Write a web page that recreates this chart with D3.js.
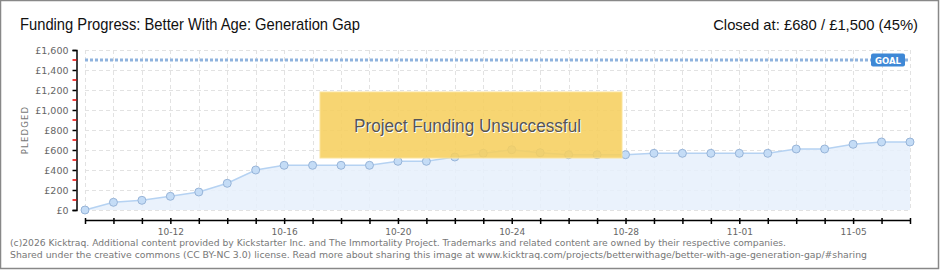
<!DOCTYPE html>
<html>
<head>
<meta charset="utf-8">
<script src="https://cdn.jsdelivr.net/npm/d3@7"></script>
<style>
  body { margin: 0; background: #fff; }
  svg { display: block; }
  .ttl { font-family: "Liberation Sans Narrow", "Liberation Sans", sans-serif; font-stretch: condensed; }
  .sm { font-family: "DejaVu Sans", sans-serif; }
</style>
</head>
<body>
<div id="chart"></div>
<script>
// daily pledge totals (GBP)
var days = ["2015-10-09","2015-10-10","2015-10-11","2015-10-12","2015-10-13","2015-10-14","2015-10-15",
  "2015-10-16","2015-10-17","2015-10-18","2015-10-19","2015-10-20","2015-10-21","2015-10-22","2015-10-23",
  "2015-10-24","2015-10-25","2015-10-26","2015-10-27","2015-10-28","2015-10-29","2015-10-30","2015-10-31",
  "2015-11-01","2015-11-02","2015-11-03","2015-11-04","2015-11-05","2015-11-06","2015-11-07"];
var pledged = [0, 77, 97, 137, 180, 267, 400, 447, 447, 447, 447, 487, 487, 530, 567,
  603, 573, 553, 553, 553, 567, 567, 567, 567, 567, 610, 610, 657, 680, 680];
var goal = 1500;
var yTicks = [0, 200, 400, 600, 800, 1000, 1200, 1400, 1600];
var labelDays = ["2015-10-12","2015-10-16","2015-10-20","2015-10-24","2015-10-28","2015-11-01","2015-11-05"];

var W = 940, H = 270;
var parse = d3.timeParse("%Y-%m-%d");
var data = days.map(function(d, i) { return { date: parse(d), value: pledged[i] }; });

var svg = d3.select("#chart").append("svg").attr("width", W).attr("height", H);

// frame
svg.append("rect").attr("x", 0.5).attr("y", 0.5).attr("width", W - 2).attr("height", H - 2)
  .attr("fill", "#fff").attr("stroke", "#888").attr("stroke-width", 1.5);

var x = d3.scaleTime().domain(d3.extent(data, function(d) { return d.date; })).range([85, 910]);
var y = d3.scaleLinear().domain([0, 1600]).range([210, 50]);

// grid
var grid = svg.append("g").attr("stroke", "#e2e2e2").attr("stroke-dasharray", "4,3");
grid.selectAll("line.v").data(data).enter().append("line")
  .attr("x1", function(d) { return Math.round(x(d.date)) + 0.5; })
  .attr("x2", function(d) { return Math.round(x(d.date)) + 0.5; })
  .attr("y1", 50).attr("y2", 210);
grid.selectAll("line.h").data(yTicks).enter().append("line")
  .attr("x1", 85).attr("x2", 910)
  .attr("y1", function(d) { return y(d) + 0.5; }).attr("y2", function(d) { return y(d) + 0.5; });

// area + line
svg.append("path").datum(data)
  .attr("d", d3.area().x(function(d) { return x(d.date); }).y0(y(0)).y1(function(d) { return y(d.value); }))
  .attr("fill", "#e6f0fb").attr("fill-opacity", 0.85);
svg.append("path").datum(data)
  .attr("d", d3.line().x(function(d) { return x(d.date); }).y(function(d) { return y(d.value); }))
  .attr("fill", "none").attr("stroke", "#b5d2f2").attr("stroke-width", 1.5);

// goal line
svg.append("line").attr("x1", 85).attr("x2", 910).attr("y1", y(goal)).attr("y2", y(goal))
  .attr("stroke", "#8fb3de").attr("stroke-width", 3).attr("stroke-dasharray", "3,2");
svg.append("rect").attr("x", 871).attr("y", y(goal) - 6.5).attr("width", 34).attr("height", 13).attr("rx", 2)
  .attr("fill", "#3e88d6");
svg.append("text").attr("class", "sm").attr("x", 888).attr("y", y(goal) + 3.5).attr("text-anchor", "middle")
  .attr("fill", "#fff").attr("font-size", 8.5).attr("font-weight", "bold").text("GOAL");

// points
svg.selectAll("circle.pt").data(data).enter().append("circle")
  .attr("cx", function(d) { return x(d.date); }).attr("cy", function(d) { return y(d.value); })
  .attr("r", 4).attr("fill", "#c4dcf6").attr("stroke", "#97b4d8").attr("stroke-width", 1);

// y axis
var yAxis = d3.axisLeft(y).tickValues(yTicks).tickSize(4).tickPadding(4)
  .tickFormat(function(d) { return "£" + d3.format(",")(d); });
var ya = svg.append("g").attr("transform", "translate(76.5,0)").call(yAxis);
ya.select(".domain").attr("stroke", "#000").attr("stroke-width", 1.5);
ya.selectAll(".tick line").attr("stroke", "#000").attr("stroke-width", 1.5);
ya.selectAll(".tick text").attr("class", "sm").attr("fill", "#666").attr("font-size", 9.5);
var minor = d3.range(100, 1600, 200);
ya.selectAll("line.minor").data(minor).enter().append("line")
  .attr("x1", -4).attr("x2", 0).attr("y1", function(d) { return y(d); }).attr("y2", function(d) { return y(d); })
  .attr("stroke", "#e00").attr("stroke-width", 1.5);

svg.append("text").attr("class", "sm").attr("transform", "translate(28,130) rotate(-90)")
  .attr("text-anchor", "middle").attr("fill", "#777").attr("font-size", 8.5).attr("letter-spacing", 1.2)
  .text("PLEDGED");

// x axis
var labelSet = labelDays.map(function(d) { return +parse(d); });
var xAxis = d3.axisBottom(x).tickValues(data.map(function(d) { return d.date; })).tickSizeInner(4).tickSizeOuter(0)
  .tickPadding(5)
  .tickFormat(function(d) { return labelSet.indexOf(+d) >= 0 ? d3.timeFormat("%m-%d")(d) : ""; });
var xa = svg.append("g").attr("transform", "translate(0,220)").call(xAxis);
xa.select(".domain").attr("stroke", "#000").attr("stroke-width", 1.5);
xa.selectAll(".tick line").attr("stroke", "#000").attr("stroke-width", 1.5).attr("y1", -2);
xa.selectAll(".tick text").attr("class", "sm").attr("fill", "#666").attr("font-size", 9);

// unsuccessful banner
svg.append("rect").attr("x", 320).attr("y", 92).attr("width", 302).attr("height", 66)
  .attr("fill", "#f6cf5e").attr("fill-opacity", 0.88).attr("stroke", "#fbe39a").attr("stroke-width", 1);
[["#fff", 1], ["#555", 0]].forEach(function(s) {
  svg.append("text").attr("class", "ttl").attr("x", 354 + s[1]).attr("y", 132 + s[1])
    .attr("fill", s[0]).attr("font-size", 18)
    .attr("textLength", 227).attr("lengthAdjust", "spacingAndGlyphs")
    .text("Project Funding Unsuccessful");
});

// header
svg.append("text").attr("class", "ttl").attr("x", 20).attr("y", 30).attr("fill", "#111").attr("font-size", 17)
  .attr("textLength", 340).attr("lengthAdjust", "spacingAndGlyphs")
  .text("Funding Progress: Better With Age: Generation Gap");
svg.append("text").attr("class", "ttl").attr("x", 918).attr("y", 30).attr("text-anchor", "end")
  .attr("fill", "#111").attr("font-size", 14.8)
  .text("Closed at:  £680 /  £1,500 (45%)");

// footer
svg.append("text").attr("class", "sm").attr("x", 10).attr("y", 246).attr("fill", "#777").attr("font-size", 9.5)
  .attr("textLength", 776).attr("lengthAdjust", "spacingAndGlyphs")
  .text("(c)2026 Kicktraq. Additional content provided by Kickstarter Inc. and The Immortality Project. Trademarks and related content are owned by their respective companies.");
svg.append("text").attr("class", "sm").attr("x", 10).attr("y", 258).attr("fill", "#777").attr("font-size", 9.5)
  .attr("textLength", 857).attr("lengthAdjust", "spacingAndGlyphs")
  .text("Shared under the creative commons (CC BY-NC 3.0) license. Read more about sharing this image at www.kicktraq.com/projects/betterwithage/better-with-age-generation-gap/#sharing");
</script>
</body>
</html>
